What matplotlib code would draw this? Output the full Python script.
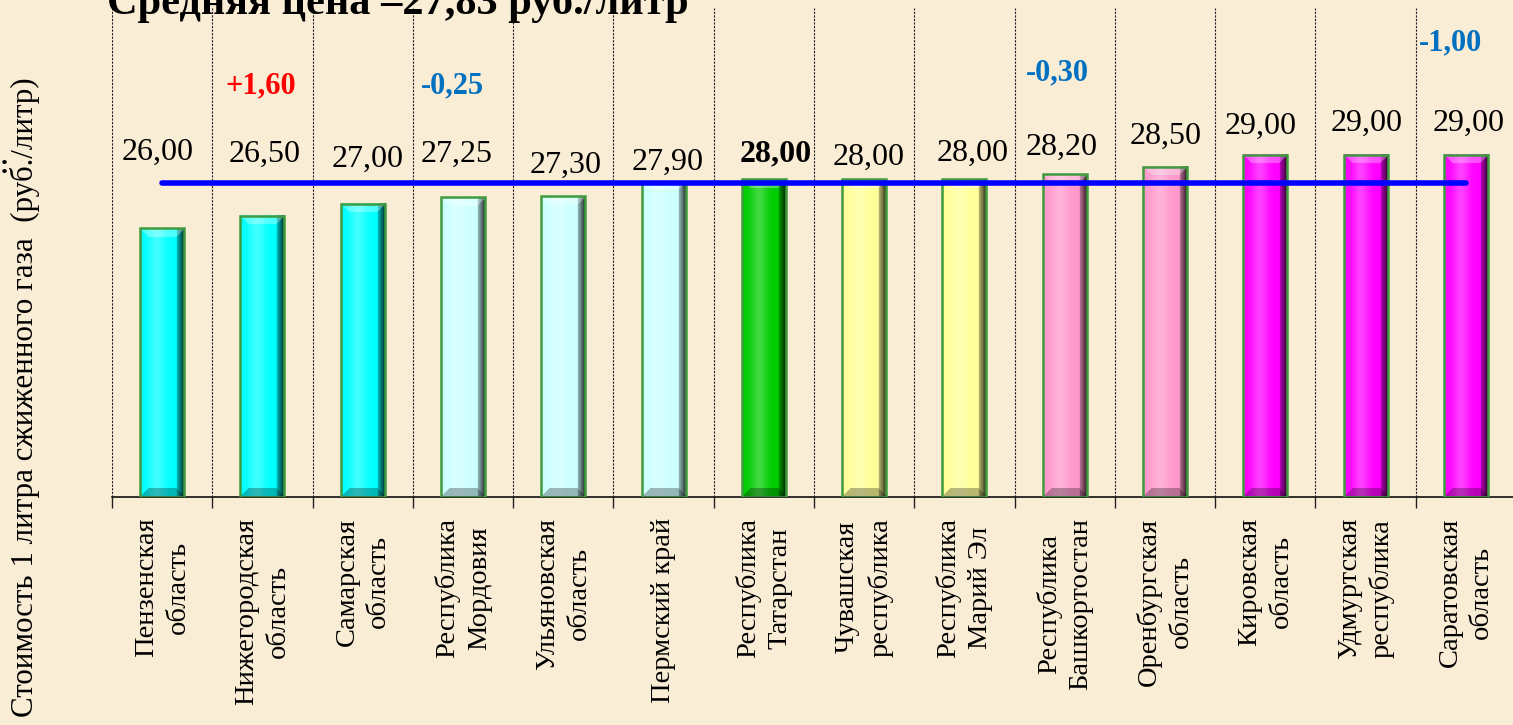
"""
Стоимость 1 литра сжиженного газа по регионам (столбцы с "объёмной" заливкой).
"""
import matplotlib
matplotlib.use("Agg")
import matplotlib.pyplot as plt
from matplotlib.colors import to_rgb
from matplotlib.patches import Rectangle
import numpy as np

plt.rcParams["font.family"] = ["Liberation Serif", "DejaVu Serif"]

# ---- data -------------------------------------------------------------------
regions = [
    "Пензенская\nобласть",
    "Нижегородская\nобласть",
    "Самарская\nобласть",
    "Республика\nМордовия",
    "Ульяновская\nобласть",
    "Пермский край",
    "Республика\nТатарстан",
    "Чувашская\nреспублика",
    "Республика\nМарий Эл",
    "Республика\nБашкортостан",
    "Оренбургская\nобласть",
    "Кировская\nобласть",
    "Удмуртская\nреспублика",
    "Саратовская\nобласть",
]
prices = [26.00, 26.50, 27.00, 27.25, 27.30, 27.90, 28.00,
          28.00, 28.00, 28.20, 28.50, 29.00, 29.00, 29.00]
average_price = 27.83
# change since the previous period, keyed by region index
change_idx = [1, 3, 9, 13]
change_txt = ["+1,60", "-0,25", "-0,30", "-1,00"]

title = "Средняя цена –27,83 руб./литр"
ylabel = "Стоимость 1 литра сжиженного газа  (руб./литр)"

# ---- styling ----------------------------------------------------------------
bar_colors = ["#00FFFF", "#00FFFF", "#00FFFF", "#CCFFFF", "#CCFFFF", "#CCFFFF",
              "#00CC00", "#FFFF99", "#FFFF99", "#FF99CC", "#FF99CC",
              "#FF00FF", "#FF00FF", "#FF00FF"]
bold_value = 6
# value-label placement (dx in category units, baseline y in data units)
label_dx = [-0.05, 0.02, 0.05, -0.06, 0.02, 0.04, 0.12,
            0.04, 0.08, -0.03, 0.01, -0.05, 0.01, 0.03]
label_y = [28.78, 28.70, 28.50, 28.70, 28.25, 28.37, 28.74,
           28.58, 28.74, 28.99, 29.44, 29.85, 29.97, 29.97]
change_dx = [-0.02, -0.11, -0.07, -0.15]
change_y = [31.52, 31.52, 32.05, 33.28]
change_colors = ["#FF0000", "#0070C0", "#0070C0", "#0070C0"]

BG = "#FAEDD6"
W_PX, H_PX = 1513, 725
BAR_W = 0.44


def bevel_image(color, w, h):
    """RGB image of a bevelled bar, w x h pixels."""
    base = np.array(to_rgb(color))
    jj, ii = np.meshgrid(np.arange(w), np.arange(h))
    u = (jj + 0.5) / w
    img = np.tile(base, (h, w, 1)).astype(float)
    # soft vertical highlight
    glow = 0.25 * np.exp(-((u - 0.38) / 0.18) ** 2)
    img = img + (1 - img) * glow[..., None]
    # dark right face
    strip = 8
    right = jj >= w - strip
    t = (jj - (w - strip)) / strip
    fac = np.where(right, 0.7 - 0.62 * t, 1.0)
    img = img * fac[..., None]
    # top bevel (lighter)
    b = 9
    top = (ii < b) & (ii <= jj) & (ii <= w - 1 - jj)
    img[top] = img[top] + (1 - img[top]) * 0.3
    # bottom bevel (darker)
    rb = h - 1 - ii
    bot = (rb < b) & (rb <= jj) & (rb <= w - 1 - jj)
    img[bot] = img[bot] * 0.72
    return np.clip(img, 0, 1)


fig = plt.figure(figsize=(W_PX / 100, H_PX / 100), dpi=100)
fig.patch.set_facecolor(BG)

ax_left, ax_right, ax_bottom, ax_top = 112, 1516, 497, 8
ax = fig.add_axes([ax_left / W_PX, 1 - ax_bottom / H_PX,
                   (ax_right - ax_left) / W_PX, (ax_bottom - ax_top) / H_PX])
ax.set_facecolor("none")
n = len(prices)
x = np.arange(n)
ax.set_xlim(-0.5, n - 0.5)
ax.set_ylim(15, 35)

# vertical dashed separators
for xb in np.arange(-0.5, n, 1.0):
    ax.axvline(xb, color="#222222", lw=0.8, ls=(0, (2, 1.2)), zorder=1)

fig.canvas.draw()
for i, (xi, val, col) in enumerate(zip(x, prices, bar_colors)):
    x0, x1 = xi - BAR_W / 2, xi + BAR_W / 2
    p0 = ax.transData.transform((x0, 15))
    p1 = ax.transData.transform((x1, val))
    wpx = max(int(round(p1[0] - p0[0])), 10)
    hpx = max(int(round(p1[1] - p0[1])), 10)
    ax.imshow(bevel_image(col, wpx, hpx), extent=(x0, x1, 15, val),
              aspect="auto", interpolation="bilinear", zorder=2)
    ax.add_patch(Rectangle((x0, 15), BAR_W, val - 15, fill=False,
                           edgecolor="#3E9B3E", lw=1.8, zorder=3))
    ax.text(xi + label_dx[i], label_y[i], f"{val:.2f}".replace(".", ","),
            ha="center", va="baseline", fontsize=23,
            fontweight="bold" if i == bold_value else "normal",
            color="black", zorder=5)

for k, idx in enumerate(change_idx):
    ax.text(x[idx] + change_dx[k], change_y[k], change_txt[k], ha="center",
            va="baseline", fontsize=22, fontweight="bold",
            color=change_colors[k], zorder=5)

# average price line
ax.plot([x[0], x[-1]], [average_price, average_price], color="#0000FF",
        lw=4, solid_capstyle="round", zorder=4)

ax.set_xlim(-0.5, n - 0.5)
ax.set_ylim(15, 35)
ax.set_xticks(x)
ax.set_xticklabels(regions, rotation=90, fontsize=20.5, ha="center", va="top",
                   multialignment="center", linespacing=1.35)
ax.tick_params(axis="x", which="major", length=0, pad=15)
ax.set_xticks(np.arange(-0.5, n, 1.0), minor=True)
ax.tick_params(axis="x", which="minor", length=8, width=1, color="#222222")
ax.set_yticks([])
for side in ("left", "right", "top"):
    ax.spines[side].set_visible(False)
ax.spines["bottom"].set_color("#111111")
ax.spines["bottom"].set_linewidth(1.2)

fig.text(107 / W_PX, 1 - 14 / H_PX, title, ha="left", va="baseline",
         fontsize=30.5, fontweight="bold")
fig.text(25 / W_PX, 1 - 397 / H_PX, ylabel, rotation=90, ha="center",
         va="center", fontsize=22.3)
fig.text(4 / W_PX, 1 - 173 / H_PX, ":", ha="center", va="baseline",
         fontsize=20, fontweight="bold")

fig.savefig("out.png", dpi=100, facecolor=fig.get_facecolor())
